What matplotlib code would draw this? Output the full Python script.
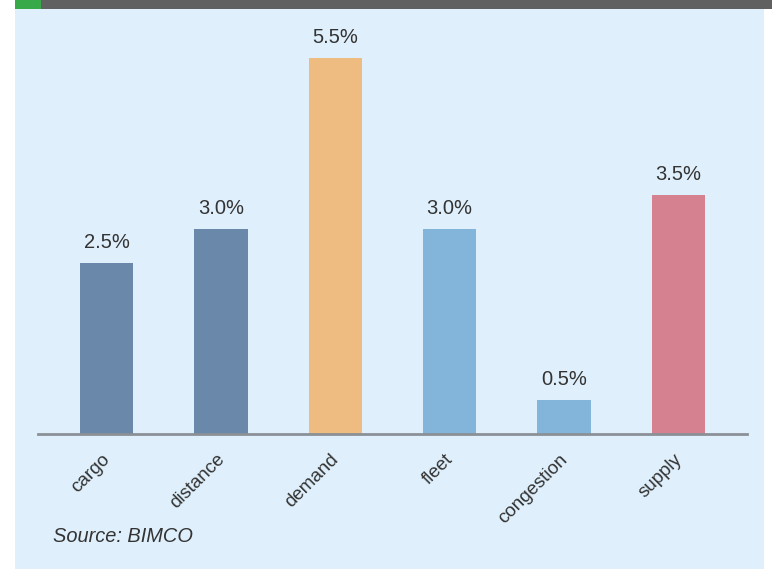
import matplotlib.pyplot as plt
from matplotlib.patches import Rectangle
from matplotlib.transforms import ScaledTranslation

categories = ["cargo", "distance", "demand", "fleet", "congestion", "supply"]
values = [2.5, 3.0, 5.5, 3.0, 0.5, 3.5]
labels = ["2.5%", "3.0%", "5.5%", "3.0%", "0.5%", "3.5%"]
colors = ["#6a89aa", "#6a89aa", "#eebb80", "#82b5d9", "#82b5d9", "#d68190"]

plt.rcParams['font.family'] = ['Liberation Sans', 'DejaVu Sans']

W, H = 772, 569
fig = plt.figure(figsize=(W / 100, H / 100), dpi=100)
fig.patch.set_facecolor("white")

# light blue panel, dark banner and green marker on top
fig.add_artist(Rectangle((15 / W, 0), (764 - 15) / W, 1, transform=fig.transFigure,
                         facecolor="#dff0fc", edgecolor="none", zorder=0))
fig.add_artist(Rectangle((15 / W, 1 - 9 / H), (W - 15) / W, 9 / H, transform=fig.transFigure,
                         facecolor="#606060", edgecolor="none", zorder=1))
fig.add_artist(Rectangle((15 / W, 1 - 9 / H), 26 / W, 9 / H, transform=fig.transFigure,
                         facecolor="#38a948", edgecolor="none", zorder=2))

ax = fig.add_axes([38 / W, 1 - 434 / H, (747 - 38) / W, (434 - 23.6) / H])
ax.set_facecolor("none")

x = range(len(categories))
ax.bar(x, values, width=0.465, color=colors, zorder=2)
for xi, v, lab in zip(x, values, labels):
    ax.text(xi, v + 0.16, lab, ha="center", va="bottom", fontsize=14.5, color="#333333")

ax.set_xlim(-0.6, 5.6)
ax.set_ylim(0, 6)
ax.set_yticks([])
ax.set_xticks(list(x))
ax.set_xticklabels(categories, rotation=45, ha="right", rotation_mode="anchor",
                   fontsize=13.5, color="#333333")
ax.tick_params(axis="x", length=0, pad=12)
shift = ScaledTranslation(-5 / 100, 0, fig.dpi_scale_trans)
for t in ax.get_xticklabels():
    t.set_transform(t.get_transform() + shift)
for s in ["top", "right", "left"]:
    ax.spines[s].set_visible(False)
ax.spines["bottom"].set_color("#8a9096")
ax.spines["bottom"].set_linewidth(2)
ax.spines["bottom"].set_zorder(3)

fig.text(53 / W, 1 - 537 / H, "Source: BIMCO", style="italic", fontsize=14.4,
         color="#333333", va="center", ha="left")

fig.savefig("out.png", dpi=100)
